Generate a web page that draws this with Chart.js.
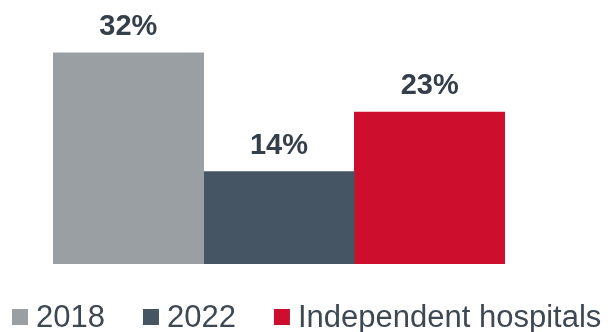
<!DOCTYPE html>
<html>
<head>
<meta charset="utf-8">
<script src="https://cdn.jsdelivr.net/npm/chart.js@4/dist/chart.umd.min.js"></script>
<style>
  html, body { margin: 0; padding: 0; background: #ffffff; }
  #wrap { width: 612px; height: 332px; position: relative; }
</style>
</head>
<body>
<div id="wrap"><canvas id="chart"></canvas></div>
<script>
// Share of hospitals, one group of three bars
const categories = ['Share'];
const seriesNames = ['2018', '2022', 'Independent hospitals'];
const values2018 = [32];
const values2022 = [14];
const valuesIndependent = [23];
const seriesColors = ['#9a9fa3', '#465563', '#cd0e2d'];

const LABEL_COLOR = '#353f4a';
const LEGEND_COLOR = '#3e4853';
const FONT_FAMILY = '"Liberation Sans", Arial, Helvetica, sans-serif';

// Percentage labels above each bar, taken from the bar's own value
const valueLabels = {
  id: 'valueLabels',
  afterDatasetsDraw(chart) {
    const ctx = chart.ctx;
    ctx.save();
    ctx.font = 'bold 29px ' + FONT_FAMILY;
    ctx.fillStyle = LABEL_COLOR;
    ctx.textAlign = 'center';
    ctx.textBaseline = 'alphabetic';
    chart.data.datasets.forEach((ds, i) => {
      const meta = chart.getDatasetMeta(i);
      meta.data.forEach((bar, j) => {
        ctx.fillText(ds.data[j] + '%', bar.x, bar.y - 18);
      });
    });
    ctx.restore();
  }
};

// Legend row along the bottom edge
const bottomLegend = {
  id: 'bottomLegend',
  afterDraw(chart) {
    const ctx = chart.ctx;
    ctx.save();
    ctx.font = '31px ' + FONT_FAMILY;
    ctx.textBaseline = 'alphabetic';
    ctx.textAlign = 'left';
    let x = 12;
    chart.data.datasets.forEach(ds => {
      ctx.fillStyle = ds.backgroundColor;
      ctx.fillRect(x, 309, 16, 16);
      x += 16 + 8;
      ctx.fillStyle = LEGEND_COLOR;
      ctx.fillText(ds.label, x, 326.5);
      x += ctx.measureText(ds.label).width + 38;
    });
    ctx.restore();
  }
};

const seriesValues = [values2018, values2022, valuesIndependent];

new Chart(document.getElementById('chart'), {
  type: 'bar',
  data: {
    labels: categories,
    datasets: seriesNames.map((name, i) => ({
      label: name,
      data: seriesValues[i],
      backgroundColor: seriesColors[i],
      borderWidth: 0,
      categoryPercentage: 1,
      barPercentage: 1
    }))
  },
  options: {
    responsive: true,
    maintainAspectRatio: false,
    animation: false,
    layout: { padding: { top: 0, left: 53, right: 107, bottom: 68 } },
    scales: {
      x: { display: false },
      y: { display: false, min: 0, max: 40 }
    },
    plugins: {
      legend: { display: false },
      tooltip: { enabled: false }
    }
  },
  plugins: [valueLabels, bottomLegend]
});
</script>
</body>
</html>
